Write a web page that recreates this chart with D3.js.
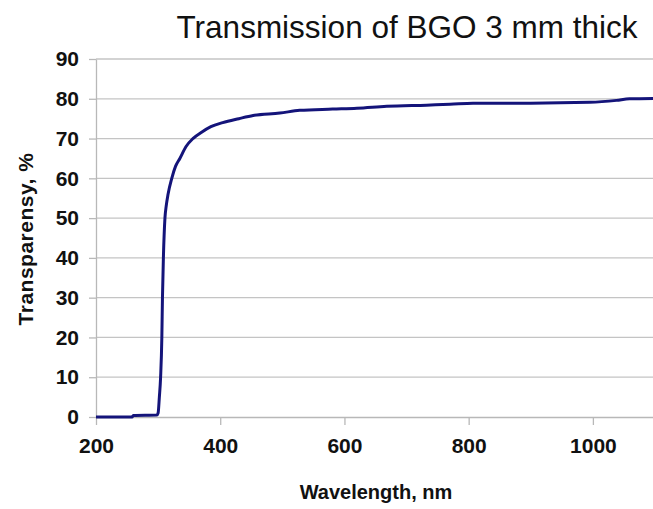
<!DOCTYPE html>
<html>
<head>
<meta charset="utf-8">
<script src="https://cdn.jsdelivr.net/npm/d3@7"></script>
<style>
  body { margin: 0; background: #fff; }
  svg { display: block; font-family: "Liberation Sans", Arial, sans-serif; }
</style>
</head>
<body>
<svg id="chart"></svg>
<script>
// values
let wavelength = [200, 258, 260, 298, 300, 302, 304, 306, 307, 308.5, 311, 313, 316, 322, 328, 335, 345, 356, 370, 385, 404, 430, 453, 496, 528, 581, 620, 668, 732, 770, 807, 900, 995, 1038, 1059, 1100]
let transmission = [0, 0, 0.4, 0.5, 1, 5, 10, 20, 30, 40, 50, 53, 56, 60, 63, 65, 68, 70, 71.6, 73, 74, 75, 75.8, 76.4, 77.1, 77.4, 77.6, 78.1, 78.4, 78.6, 78.9, 78.9, 79.1, 79.6, 80, 80.1]
let xTicks = [200, 400, 600, 800, 1000]
let yTicks = [0, 10, 20, 30, 40, 50, 60, 70, 80, 90]

let w = 653
let h = 509
let margin = {top: 59, left: 96, right: -2, bottom: 92}

let svg = d3.select("#chart")
    .attr("width", w)
    .attr("height", h)

let x = d3.scaleLinear().domain([200, 1100]).range([margin.left, w - margin.right])
let y = d3.scaleLinear().domain([0, 90]).range([h - margin.bottom, margin.top])

// gridlines
svg.append("g").attr("class", "grid")
    .selectAll("line")
    .data(yTicks.filter(d => d > 0))
    .enter()
    .append("line")
    .attr("x1", margin.left)
    .attr("x2", w)
    .attr("y1", d => y(d))
    .attr("y2", d => y(d))
    .attr("stroke", "#c4c4c4")
    .attr("stroke-width", 1.3)

let yAxis = svg.append("g")
    .attr("transform", `translate(${margin.left},0)`)
    .call(d3.axisLeft(y).tickValues(yTicks).tickSize(7).tickPadding(10).tickSizeOuter(0))
let xAxis = svg.append("g")
    .attr("transform", `translate(0,${y(0)})`)
    .call(d3.axisBottom(x).tickValues(xTicks).tickFormat(d3.format("d")).tickSize(8).tickPadding(13).tickSizeOuter(0))

for (let ax of [xAxis, yAxis]) {
    ax.select(".domain").attr("stroke", "#b8b8b8").attr("stroke-width", 1.3)
    ax.selectAll(".tick line").attr("stroke", "#b8b8b8").attr("stroke-width", 1.3)
    ax.selectAll(".tick text")
        .attr("fill", "#111")
        .style("font-size", "21px")
        .style("font-weight", "bold")
        .style("font-family", "'Liberation Sans', Arial, sans-serif")
}

// curve
let line = d3.line()
    .x((d, i) => x(wavelength[i]))
    .y(d => y(d))
    .curve(d3.curveMonotoneX)

svg.append("path")
    .datum(transmission)
    .attr("d", line)
    .attr("fill", "none")
    .attr("stroke", "#14147a")
    .attr("stroke-width", 3)
    .attr("stroke-linejoin", "round")

// texts
svg.append("text")
    .attr("x", 407)
    .attr("y", 38)
    .attr("text-anchor", "middle")
    .style("font-size", "31.5px")
    .attr("fill", "#111")
    .text("Transmission of BGO 3 mm thick")

svg.append("text")
    .attr("x", 376)
    .attr("y", 499)
    .attr("text-anchor", "middle")
    .style("font-size", "20px")
    .style("font-weight", "bold")
    .attr("fill", "#111")
    .text("Wavelength, nm")

svg.append("text")
    .attr("transform", "translate(33,239) rotate(-90)")
    .attr("text-anchor", "middle")
    .style("font-size", "21px")
    .style("font-weight", "bold")
    .style("letter-spacing", "0.5px")
    .attr("fill", "#111")
    .text("Transparensy, %")
</script>
</body>
</html>
